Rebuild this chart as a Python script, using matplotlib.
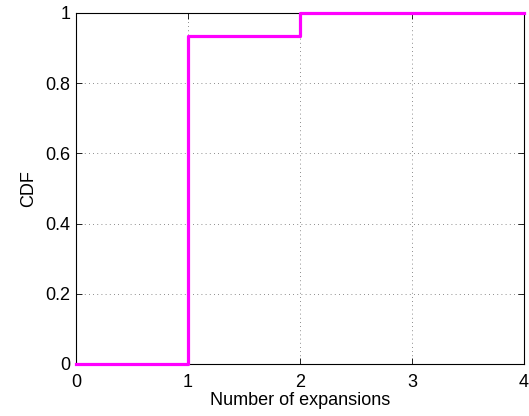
import matplotlib
matplotlib.use("Agg")
import matplotlib.pyplot as plt

# CDF of number of expansions (step function)
expansions = [0, 1, 2, 4]
cdf = [0.0, 0.935, 1.0, 1.0]

plt.rcParams['font.family'] = ['Liberation Sans', 'DejaVu Sans']

fig = plt.figure(figsize=(5.29, 4.16), dpi=100)
ax = fig.add_axes([0.1437, 0.125, 0.8468, 0.8438])

ax.step(expansions, cdf, where='post', color='#ff00ff', linewidth=2.3,
        clip_on=False, zorder=3)

ax.set_xlim(0, 4)
ax.set_ylim(0, 1)
ax.set_xticks([0, 1, 2, 3, 4])
ax.set_yticks([0, 0.2, 0.4, 0.6, 0.8, 1])
ax.set_yticklabels(['0', '0.2', '0.4', '0.6', '0.8', '1'])

ax.grid(True, linestyle=(0, (1, 4)), color='black', linewidth=0.6, alpha=0.6)
ax.tick_params(direction='in', top=True, right=True, labelsize=13, length=4, width=0.6)
ax.tick_params(axis='x', pad=7)
ax.tick_params(axis='y', pad=4)
for s in ax.spines.values():
    s.set_linewidth(0.8)

ax.set_xlabel('Number of expansions', fontsize=13, labelpad=1)
ax.set_ylabel('CDF', fontsize=13, labelpad=6)

fig.savefig('out.png', dpi=100)
